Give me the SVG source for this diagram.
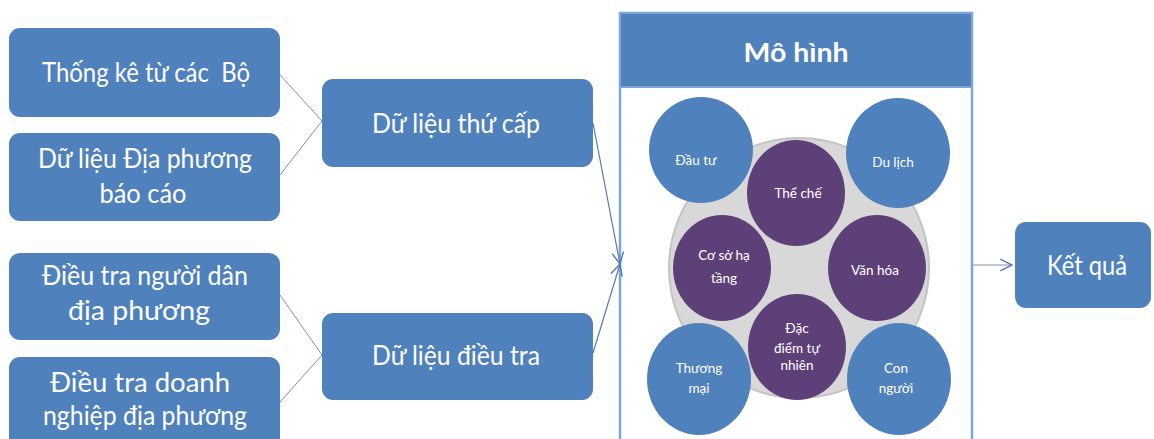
<svg xmlns="http://www.w3.org/2000/svg" width="1154" height="439" viewBox="0 0 1154 439">
<style>
.box{fill:#4f81bd;}
.t{font-family:Lato,"Open Sans","DejaVu Sans",sans-serif;fill:#ffffff;font-size:26px;text-anchor:middle;}
.ts{font-family:Lato,"Open Sans","DejaVu Sans",sans-serif;fill:#ffffff;font-size:13.5px;text-anchor:middle;}
.b{fill:#4f81bd;}
.p{fill:#5e4079;}
.c{fill:none;stroke:#8090a8;stroke-width:1;}
.cb{fill:none;stroke:#5878b4;stroke-width:1.2;}
</style>
<defs>
<marker id="ah" markerUnits="userSpaceOnUse" markerWidth="14" markerHeight="14" viewBox="0 0 12 12" refX="11" refY="6" orient="auto">
<path d="M1,1 L11,6 L1,11" fill="none" stroke="#5878b4" stroke-width="1.2"/>
</marker>
</defs>
<rect width="1154" height="439" fill="#ffffff"/>

<g id="mo-hinh">
<rect x="620" y="13" width="352" height="440" fill="#ffffff" stroke="#7ea6d9" stroke-width="2.5"/>
<rect x="620" y="13" width="352" height="74" fill="#4f81bd" stroke="#7ea6d9" stroke-width="2"/>
<text class="t" x="796" y="62" font-size="29" font-weight="bold" textLength="105" lengthAdjust="spacingAndGlyphs">Mô hình</text>
<circle cx="799" cy="268" r="130" fill="#d8d8d8" stroke="#c4c4c4" stroke-width="2"/>
</g>

<g id="dau-tu"><ellipse class="b" cx="701" cy="150" rx="52" ry="53"/><text class="ts" x="696" y="165">Đầu tư</text></g>
<g id="du-lich"><ellipse class="b" cx="898" cy="153" rx="52" ry="55"/><text class="ts" x="893" y="167">Du lịch</text></g>
<g id="the-che"><ellipse class="p" cx="796" cy="193" rx="49" ry="53"/><text class="ts" x="798" y="198">Thể chế</text></g>
<g id="co-so-ha-tang"><ellipse class="p" cx="722" cy="268" rx="49" ry="53"/><text class="ts" x="724" y="260">Cơ sở hạ</text><text class="ts" x="724" y="283">tầng</text></g>
<g id="van-hoa"><ellipse class="p" cx="877" cy="268" rx="49" ry="53"/><text class="ts" x="875" y="275">Văn hóa</text></g>
<g id="dac-diem"><ellipse class="p" cx="797" cy="347" rx="49" ry="53"/><text class="ts" x="797" y="333">Đặc</text><text class="ts" x="797" y="353">điểm tự</text><text class="ts" x="797" y="370">nhiên</text></g>
<g id="thuong-mai"><ellipse class="b" cx="699" cy="379" rx="52" ry="56"/><text class="ts" x="699" y="373">Thương</text><text class="ts" x="699" y="393">mại</text></g>
<g id="con-nguoi"><ellipse class="b" cx="899" cy="379" rx="52" ry="56"/><text class="ts" x="896" y="373">Con</text><text class="ts" x="896" y="393">người</text></g>

<g id="connectors">
<line class="c" x1="280" y1="75" x2="322" y2="121"/>
<line class="c" x1="280" y1="175" x2="322" y2="121"/>
<line class="c" x1="280" y1="295" x2="322" y2="355"/>
<line class="c" x1="280" y1="402" x2="322" y2="355"/>
<line class="cb" x1="593" y1="123" x2="620" y2="264" marker-end="url(#ah)"/>
<line class="cb" x1="593" y1="353" x2="620" y2="264" marker-end="url(#ah)"/>
<line class="c" x1="973" y1="265" x2="1012" y2="265" marker-end="url(#ah)"/>
</g>

<g id="thong-ke"><rect class="box" x="9" y="28" width="271" height="89" rx="11"/><text class="t" x="42" y="82" xml:space="preserve" textLength="208" lengthAdjust="spacingAndGlyphs" style="text-anchor:start">Thống kê từ các  Bộ</text></g>
<g id="du-lieu-dia-phuong"><rect class="box" x="9" y="133" width="271" height="88" rx="11"/><text class="t" x="145" y="168" textLength="214" lengthAdjust="spacingAndGlyphs">Dữ liệu Địa phương</text><text class="t" x="143" y="203" textLength="87" lengthAdjust="spacingAndGlyphs">báo cáo</text></g>
<g id="dieu-tra-nguoi-dan"><rect class="box" x="9" y="253" width="271" height="87" rx="11"/><text class="t" x="145" y="285" textLength="206" lengthAdjust="spacingAndGlyphs">Điều tra người dân</text><text class="t" x="139" y="320" textLength="142" lengthAdjust="spacingAndGlyphs">địa phương</text></g>
<g id="dieu-tra-doanh-nghiep"><rect class="box" x="9" y="357" width="271" height="92" rx="11"/><text class="t" x="140" y="392" textLength="180" lengthAdjust="spacingAndGlyphs">Điều tra doanh</text><text class="t" x="145" y="425" textLength="204" lengthAdjust="spacingAndGlyphs">nghiệp địa phương</text></g>
<g id="du-lieu-thu-cap"><rect class="box" x="322" y="79" width="271" height="88" rx="11"/><text class="t" x="456" y="133" textLength="168" lengthAdjust="spacingAndGlyphs">Dữ liệu thứ cấp</text></g>
<g id="du-lieu-dieu-tra"><rect class="box" x="322" y="313" width="271" height="87" rx="11"/><text class="t" x="456" y="365" textLength="168" lengthAdjust="spacingAndGlyphs">Dữ liệu điều tra</text></g>
<g id="ket-qua"><rect class="box" x="1015" y="222" width="136" height="86" rx="11"/><text class="t" x="1087" y="275" textLength="80" lengthAdjust="spacingAndGlyphs">Kết quả</text></g>
</svg>
